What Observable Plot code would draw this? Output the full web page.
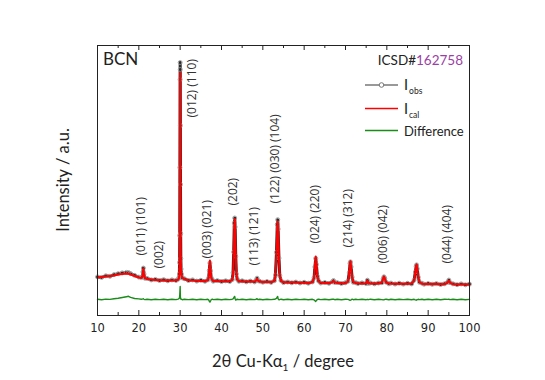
<!DOCTYPE html>
<html><head><meta charset="utf-8">
<script src="https://cdn.jsdelivr.net/npm/d3@7"></script>
<script src="https://cdn.jsdelivr.net/npm/@observablehq/plot@0.6"></script>
<style>body{margin:0;background:#fff}</style>
</head><body><div id="chart"></div>
<script>
// 2θ grid (degrees)
const twoTheta = [10,11,12,13,14,15,16,17,17.5,18,19,20,20.6,20.85,21.0,21.1,21.25,21.5,22,23,24,25,26,27,28,29,29.5,29.7,29.8,29.86,29.9,29.94,29.98,30.0,30.02,30.05,30.08,30.12,30.16,30.22,30.3,30.5,31,32,33,34,35,36,36.7,36.9,37.05,37.2,37.35,37.5,37.8,38,39,40,41,42,42.6,42.8,42.95,43.1,43.2,43.3,43.45,43.6,43.8,44.2,45,46,47,48,48.4,48.6,48.8,49.2,50,51,52,52.8,53.05,53.3,53.5,53.6,53.7,53.9,54.1,54.4,55,56,57,58,59,60,61,62,62.4,62.6,62.8,62.95,63.2,63.5,64,65,66,66.8,67.1,67.4,68,69,70,70.6,70.9,71.1,71.2,71.35,71.6,71.9,72.5,73,74,75,75.3,75.6,76,77,78,78.8,79.1,79.3,79.5,79.8,80.5,81,82,83,84,85,86,86.6,86.9,87.1,87.2,87.35,87.6,87.9,88.5,89,90,91,92,93,94,94.7,95.0,95.3,96,97,98,99,100];
// calculated intensity (a.u.)
const iCal = [38.0,38.5,39.0,39.5,40.0,41.0,41.5,42.0,41.8,41.0,39.5,38.0,37.6,38.2,43.0,47.0,41.0,37.5,36.5,36.0,35.5,35.3,35.1,35.0,35.0,35.2,35.8,37.0,40.0,50.0,75.0,140.0,225.0,243.0,238.0,185.0,128.0,80.0,56.0,46.0,41.0,38.0,36.2,35.3,35.0,34.8,34.6,34.5,35.2,38.0,47.0,55.0,46.0,38.0,35.2,34.6,34.4,34.3,34.2,34.3,35.5,42.0,62.0,90.0,96.5,88.0,60.0,42.0,36.0,34.5,34.1,34.0,33.9,33.9,35.0,36.8,35.0,33.9,33.6,33.5,33.4,34.5,40.0,62.0,89.0,94.0,86.0,58.0,40.0,34.5,33.2,33.0,33.0,32.9,32.8,32.7,32.6,33.2,38.0,50.0,59.0,52.0,39.0,34.0,32.8,32.5,32.5,33.3,34.6,33.3,32.4,32.3,32.3,34.0,43.0,53.0,54.3,49.0,38.0,33.5,32.3,32.2,32.1,32.2,35.0,32.4,32.1,32.0,32.0,33.0,37.0,39.0,37.0,33.0,32.0,31.9,31.8,31.8,31.7,31.7,31.9,35.0,44.0,50.0,51.0,47.0,38.0,33.5,31.8,31.6,31.5,31.5,31.4,31.3,31.3,33.0,35.0,33.0,31.2,31.1,31.1,31.0,31.0];
// observed intensity (a.u.)
const iObs = [38.6,38.1,39.7,39.2,40.9,41.8,42.6,43.1,43.0,41.9,40.1,38.4,37.9,38.8,43.6,47.4,41.5,37.2,37.1,35.6,36.1,35.0,35.8,34.7,35.6,35.0,36.3,37.8,41.5,53.0,80.0,148.0,236.0,253.0,246.0,190.0,131.0,82.0,57.0,46.5,41.6,37.6,36.8,35.0,35.6,34.4,35.2,34.2,35.6,37.6,45.0,52.5,44.8,37.8,35.7,34.3,34.9,34.0,34.7,34.0,35.9,42.8,63.5,92.5,97.5,88.6,59.2,41.6,36.5,34.2,34.7,33.7,34.4,33.6,35.4,37.3,34.8,34.3,33.3,34.0,33.1,34.8,40.6,63.2,91.0,95.8,86.5,57.4,39.8,35.0,32.9,33.5,32.7,33.4,32.5,33.2,32.3,33.6,37.7,48.6,57.0,51.0,39.2,34.5,32.5,33.0,32.2,33.7,35.0,33.0,32.9,32.0,32.8,34.2,42.6,52.2,53.6,48.7,38.4,33.2,32.8,31.9,32.6,31.9,35.3,32.1,32.6,31.7,32.5,32.8,36.6,38.7,37.2,33.4,31.7,32.4,31.5,32.3,31.4,32.2,31.6,35.3,43.5,49.2,50.6,46.8,38.3,33.2,32.3,31.3,32.0,31.2,31.9,31.0,31.8,33.2,35.4,32.8,31.7,30.8,31.6,30.7,31.4];
// difference curve (offset, a.u.)
const diff = [16.3,15.8,16.4,16.1,16.8,17.2,18.0,18.8,19.2,18.1,17.0,16.6,16.3,16.4,16.6,16.7,16.2,15.9,16.3,15.8,16.2,15.9,16.3,15.8,16.2,15.9,16.4,16.8,17.4,18.5,20.5,24.0,27.5,29.0,24.5,19.0,17.5,16.8,16.5,16.2,16.4,15.8,16.3,15.9,16.3,15.8,16.3,15.9,16.2,15.6,14.2,13.4,14.5,15.8,16.3,15.9,16.3,15.8,16.3,15.9,16.3,16.6,17.5,18.8,19.0,16.8,15.4,15.8,16.3,15.9,16.3,15.8,16.2,15.9,16.3,16.8,15.9,16.2,15.8,16.3,15.9,16.2,16.5,17.2,18.5,19.0,16.6,15.6,15.9,16.3,15.8,16.3,15.8,16.3,15.9,16.2,15.8,16.2,15.6,14.8,14.0,15.0,16.1,16.3,15.9,16.3,15.8,16.2,16.3,15.8,16.3,15.8,16.2,16.1,15.6,15.2,15.4,15.7,16.3,15.8,16.3,15.9,16.3,15.8,16.2,15.8,16.3,15.8,16.3,15.9,15.6,15.7,16.1,16.2,15.8,16.3,15.8,16.3,15.9,16.2,15.8,16.2,15.6,15.3,15.5,15.8,16.2,15.9,16.3,15.8,16.3,15.8,16.3,15.8,16.2,16.1,16.2,15.9,16.3,15.8,16.3,15.8,16.1];

// reflection labels
const hklLabels = ["(011) (101)","(002)","(012) (110)","(003) (021)","(202)","(113) (121)","(122) (030) (104)","(024) (220)","(214) (312)","(006) (042)","(044) (404)"];
const hklTwoTheta = [20.6,25.0,33.0,36.6,42.7,48.0,53.1,62.7,70.7,79.0,94.7];
const hklLevel = [60,47,198,57,110,50,112,72,68,52,52];

const majorTicks = [10,20,30,40,50,60,70,80,90,100];
const minorTicks = [15,25,35,45,55,65,75,85,95];

const rows = twoTheta.map((x,i)=>({x, obs:iObs[i], cal:iCal[i], diff:diff[i]}));
const labels = hklLabels.map((t,i)=>({t, x:hklTwoTheta[i], y:hklLevel[i]}));

const chart = Plot.plot({
  width:545, height:380,
  marginLeft:97, marginRight:76, marginTop:45, marginBottom:65,
  style:{fontFamily:"DejaVu Sans", background:"white", color:"#222"},
  x:{domain:[10,100]},
  y:{domain:[0,270], axis:null},
  marks:[
    Plot.line(rows,{x:"x", y:"diff", stroke:"#1a8c1a", strokeWidth:1.4}),
    Plot.line(rows,{x:"x", y:"obs", stroke:"#2a2a2a", strokeWidth:3}),
    Plot.dot(rows,{x:"x", y:"obs", r:2, stroke:"#999", fill:"none", strokeWidth:0.9}),
    Plot.line(rows,{x:"x", y:"cal", stroke:"#ff0000", strokeWidth:2}),
    Plot.text(labels,{x:"x", y:"y", text:"t", rotate:-90, textAnchor:"start", fontSize:12, fill:"#333", fontFamily:"Open Sans"}),
    Plot.frame({stroke:"#222"}),
    Plot.tickX(majorTicks,{x:d=>d, insetTop:265, stroke:"#222"}),
    Plot.tickX(minorTicks,{x:d=>d, insetTop:267, stroke:"#222"}),
    Plot.tickX(majorTicks,{x:d=>d, insetBottom:265, stroke:"#222"}),
    Plot.tickX(minorTicks,{x:d=>d, insetBottom:267, stroke:"#222"}),
    Plot.axisX({ticks:majorTicks, tickSize:0, tickPadding:8, fontSize:11.5, tickFormat:d=>d, label:null})
  ]
});
document.getElementById("chart").appendChild(chart);

const svg = d3.select(chart);
const g = svg.append("g").attr("font-family","Lato").attr("fill","#222").attr("text-anchor","start");
// x-axis title
const xt = g.append("text").attr("x",283).attr("y",367).attr("text-anchor","middle").attr("font-size",16.5);
xt.append("tspan").text("2θ Cu-Kα");
xt.append("tspan").attr("font-size",10).attr("dy",4).text("1");
xt.append("tspan").attr("dy",-4).text(" / degree");
// y-axis title
g.append("text").attr("transform","translate(69,180) rotate(-90)").attr("text-anchor","middle").attr("font-size",16.5).text("Intensity / a.u.");
// sample name
g.append("text").attr("x",103).attr("y",65).attr("text-anchor","start").attr("font-size",17).text("BCN");
// ICSD reference
const ic = g.append("text").attr("x",463).attr("y",65).attr("text-anchor","end").attr("font-size",13.5);
ic.append("tspan").text("ICSD#");
ic.append("tspan").attr("fill","#9b3fa6").text("162758");
// legend
const leg = [
  {name:"I", sub:"obs", color:"#777", y:85, dot:true},
  {name:"I", sub:"cal", color:"#ff0000", y:108.5},
  {name:"Difference", sub:null, color:"#1a8c1a", y:130.5}
];
leg.forEach(d=>{
  g.append("line").attr("x1",365).attr("x2",398).attr("y1",d.y).attr("y2",d.y).attr("stroke",d.color).attr("stroke-width",1.6);
  if(d.dot) g.append("circle").attr("cx",381.5).attr("cy",d.y).attr("r",2.3).attr("fill","white").attr("stroke","#777");
  const t = g.append("text").attr("x",404).attr("y",d.y+5).attr("text-anchor","start").attr("font-size",13);
  t.append("tspan").attr("font-size",d.sub ? 14.5 : 13).text(d.name);
  if(d.sub) t.append("tspan").attr("font-size",8.5).attr("dy",4).attr("dx",1).text(d.sub);
});
</script>
</body></html>
